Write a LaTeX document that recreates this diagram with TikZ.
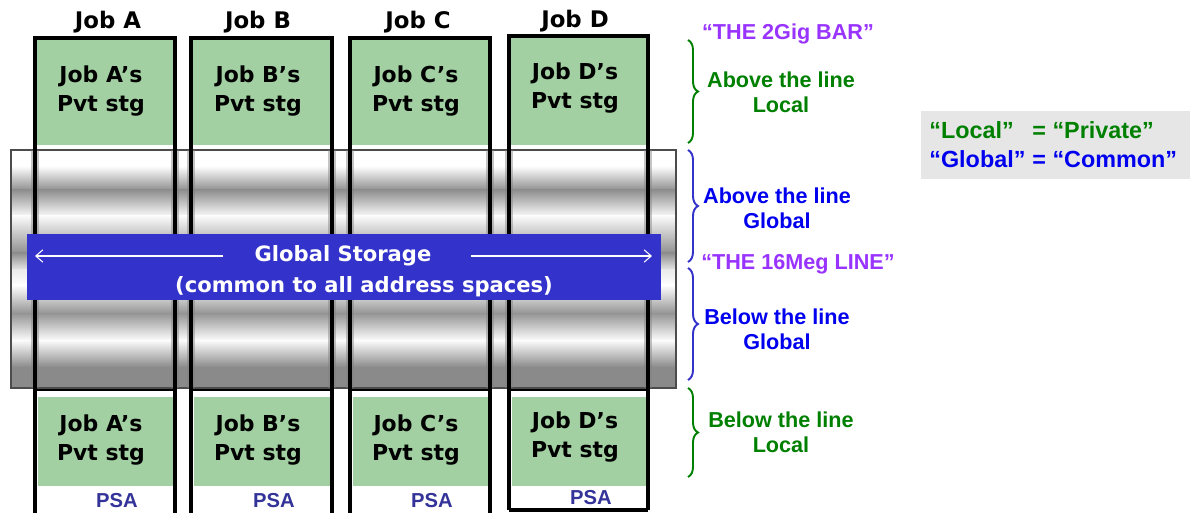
\documentclass[tikz,border=0pt]{standalone}
\usepackage{fontspec}
\newfontfamily\verdfont{DejaVu Sans}
\newfontfamily\arialfont{Liberation Sans}
\usepackage{xcolor}
\usetikzlibrary{arrows.meta}
\usetikzlibrary{decorations.pathreplacing}

\definecolor{pvtgreen}{HTML}{A2D0A2}
\definecolor{bannerblue}{HTML}{3333CC}
\definecolor{psablue}{HTML}{333399}
\definecolor{localgreen}{HTML}{008000}
\definecolor{globalblue}{HTML}{0000EE}
\definecolor{linepurple}{HTML}{9933FF}
\definecolor{legendgray}{HTML}{E6E6E6}

\tikzset{
  jobframe/.style={draw=black, line width=1.8pt},
  jobhead/.style={font=\verdfont\bfseries\fontsize{13}{15}\selectfont, inner sep=0pt},
  pvttext/.style={font=\verdfont\bfseries\fontsize{12.5}{16.4}\selectfont, align=center, inner sep=0pt},
  psatext/.style={font=\arialfont\bfseries\fontsize{11.5}{13}\selectfont, text=psablue, inner sep=0pt},
  bannertext/.style={font=\verdfont\bfseries\fontsize{12}{14}\selectfont, text=white, inner sep=0pt},
  sidetext/.style={font=\arialfont\bfseries\fontsize{12.3}{14.2}\selectfont, align=center, inner sep=0pt},
  sidebrace/.style={decorate, decoration={brace, amplitude=0.2cm}, line width=1.1pt},
  wharrow/.style={white, line width=0.6pt, -{Straight Barb[length=4pt, width=7pt]}},
}

\begin{document}
\begin{tikzpicture}[x=0.02cm, y=-0.02cm]
        \fill[white] (0,0) rectangle (1190,513);
        \useasboundingbox (0,0) rectangle (1190,513);
        % the shared storage cylinder
        \foreach \ya/\yb/\ga/\gb in {150/166/100/100, 166/190/100/56, 190/216/56/98, 216/253/98/56, 253/270/56/92,
                                     270/285/92/100, 285/313/100/58, 313/340/58/99, 340/367/99/54, 367/388/54/54}
            \shade[top color=white!\ga!black, bottom color=white!\gb!black] (11,\ya) rectangle (676,{\yb+0.5});
        \draw[gray!60!black, line width=0.6pt] (11,150) rectangle (676,388);
        % one column per job
        \foreach \j/\xa/\xb/\yt/\yb/\xt/\xh/\xp/\dy in {A/35/175/38/513/101/108/117/0, B/191/332/38/513/258/258/274/0,
                                                        C/350/490/38/513/416/418/432/0, D/509/648/36/510/575/575/591/-3} {
            \draw[gray, line width=4.5pt, opacity=0.45] (\xa,150) -- (\xa,388) (\xb,150) -- (\xb,388);
            \fill[pvtgreen] (\xa+2,\yt+2) rectangle (\xb-2,145);
            \fill[pvtgreen] (\xa+3,397) rectangle (\xb-2,486);
            \draw[jobframe] (\xa,\yb) -- (\xa,\yt) -- (\xb,\yt) -- (\xb,\yb);
            \draw[black, line width=0.6pt] (\xa,390) -- (\xb,390);
            \node[jobhead] (head\j) at (\xh,{22+\dy/3}) {Job \j};
            \node[pvttext] (top\j) at (\xt,{91+\dy}) {Job \j’s\\Pvt stg};
            \node[pvttext] (bot\j) at (\xt,{440+\dy}) {Job \j’s\\Pvt stg};
            \node[psatext] (psa\j) at (\xp,{501+\dy}) {PSA};
        }
        \draw[jobframe] (509,510) -- (648,510);
        % banner across the cylinder
        \node[fill=bannerblue, minimum width=12.68cm, minimum height=1.32cm, inner sep=0pt] (banner) at (344,267) {};
        \node[bannertext] (gs) at (343,256) {Global Storage};
        \node[bannertext] (gscommon) at (364,287) {(common to all address spaces)};
        \coordinate (arrL) at (35,253);
        \coordinate (arrR) at (652,253);
        \draw[wharrow] ([xshift=-0.62cm]gs.west) -- (gs.west -| arrL);
        \draw[wharrow] ([xshift=0.78cm]gs.east) -- (gs.east -| arrR);
        % braces and their labels
        \draw[sidebrace, localgreen] (688,40) -- (688,143);
        \draw[sidebrace, bannerblue] (688,150) -- (688,262);
        \draw[sidebrace, bannerblue] (688,268) -- (688,380);
        \draw[sidebrace, localgreen] (688,388) -- (688,477);
        \node[sidetext, text=linepurple] (bar2g) at (788,34) {“THE 2Gig BAR”};
        \node[sidetext, text=localgreen] (abvloc) at (781,92) {Above the line\\Local};
        \node[sidetext, text=globalblue] (abvglob) at (777,208) {Above the line\\Global};
        \node[sidetext, text=linepurple] (line16m) at (798,264) {“THE 16Meg LINE”};
        \node[sidetext, text=globalblue] (belglob) at (777,329) {Below the line\\Global};
        \node[sidetext, text=localgreen] (belloc) at (781,432) {Below the line\\Local};
        % legend
        \node[fill=legendgray, minimum width=5.38cm, minimum height=1.36cm, inner sep=0pt, anchor=north west] (legend) at (921,111) {};
        \node[anchor=west, inner sep=0pt, font=\arialfont\bfseries\fontsize{13.3}{16.4}\selectfont] (legtxt) at (929,147)
            {\begin{tabular}{@{}l@{\hspace{0.3em}}l@{}}
             \textcolor{localgreen}{“Local”} & \textcolor{localgreen}{= “Private”}\\
             \textcolor{globalblue}{“Global”} & \textcolor{globalblue}{= “Common”}
             \end{tabular}};
    \end{tikzpicture}
\end{document}
